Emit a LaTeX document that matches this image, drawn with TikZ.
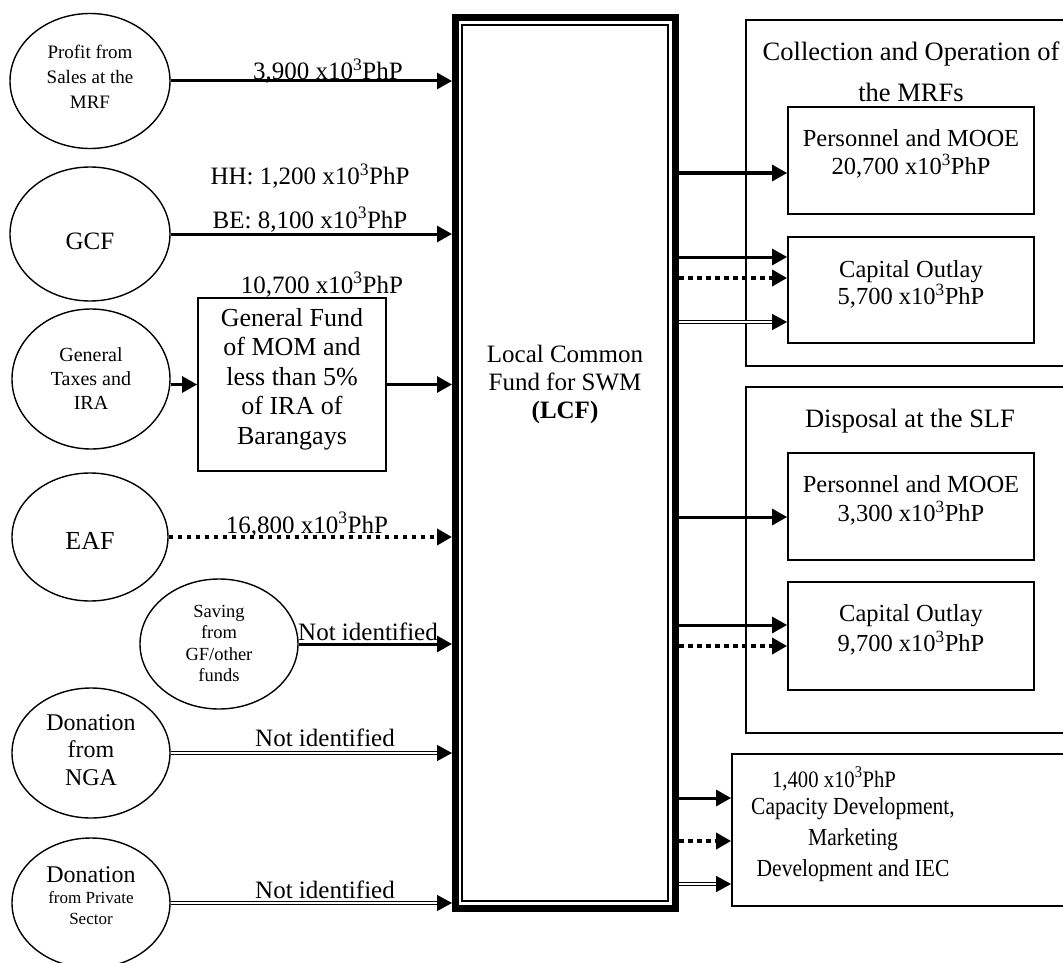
\documentclass[tikz,border=0pt]{standalone}
\usepackage{fontspec}
\setmainfont{Liberation Serif}
\newfontfamily\condserif[FakeStretch=0.88]{Liberation Serif}
\usetikzlibrary{shapes.geometric,arrows.meta,calc}
\newcommand{\fsz}[2]{\fontsize{#1}{#2}\selectfont}
\newcommand{\kphp}[1]{#1 x10\textsuperscript{3}PhP}

\begin{document}
\begin{tikzpicture}[x=1pt,y=-1pt,
  tip/.style={-{Triangle[length=15pt,width=16pt]}},
  flow/.style={tip, line width=3pt},
  dotflow/.style={tip, line width=4pt, dash pattern=on 4.5pt off 4.5pt},
  dblflow/.style={tip, double, double distance=2pt, line width=1.3pt},
  src/.style={ellipse, draw, line width=1.4pt, inner sep=0pt},
  box/.style={draw, line width=1.8pt, inner sep=0pt},
  group/.style={draw, line width=1.5pt, inner sep=0pt},
  txt/.style={inner sep=0pt, align=center},
  lbl/.style={inner sep=0pt, anchor=base, font=\fsz{25}{30}},
]
\path[use as bounding box] (0,0) rectangle (1063,963);
\clip (0,0) rectangle (1063,963);

% ---- central fund: heavy frame with a thin inner frame
\node[draw, line width=7pt, inner sep=0pt, minimum width=220pt, minimum height=891pt] (lcf) at (565.5,463) {};
\node[draw, line width=1.5pt, inner sep=0pt, minimum width=206pt, minimum height=876pt] (lcfin) at (565,463) {};
\node[txt, font=\fsz{25}{28}] (lcftxt) at (565,384) {Local Common\\Fund for SWM\\\textbf{(LCF)}};

% ---- sources
\node[src, minimum width=160pt, minimum height=135pt] (e1) at (90,81) {};
\node[txt, font=\fsz{19}{25}] (e1t) at (90,77) {Profit from\\Sales at the\\MRF};
\node[src, minimum width=160pt, minimum height=134pt] (e2) at (90,234) {};
\node[txt, font=\fsz{25}{30}] (e2t) at (90,241) {GCF};
\node[src, minimum width=158pt, minimum height=140pt] (e3) at (91,379) {};
\node[txt, font=\fsz{20}{24}] (e3t) at (91,378.5) {General\\Taxes and\\IRA};
\node[src, minimum width=156pt, minimum height=128pt] (e4) at (90,537) {};
\node[txt, font=\fsz{26}{30}] (e4t) at (90,541) {EAF};
\node[src, minimum width=158pt, minimum height=130pt] (e5) at (219,644) {};
\node[txt, font=\fsz{18.5}{21.5}] (e5t) at (219,643.5) {Saving\\from\\GF/other\\funds};
\node[src, minimum width=158pt, minimum height=130pt] (e6) at (91,753) {};
\node[txt, font=\fsz{24}{27.5}] (e6t) at (91,750) {Donation\\from\\NGA};
\node[src, minimum width=158pt, minimum height=130pt] (e7) at (91,903) {};
\node[txt, font=\fsz{17}{21}] (e7t) at (91,896) {{\fontsize{24}{21}\selectfont Donation}\\from Private\\Sector};

% ---- intermediate general fund
\node[box, minimum width=188pt, minimum height=173pt] (gf) at (292,384.5) {};
\node[txt, font=\fsz{26}{29.5}] (gft) at (292,379) {General Fund\\of MOM and\\less than 5\%\\of IRA of\\Barangays};

% ---- uses: collection and operation of the MRFs
\node[group, minimum width=330pt, minimum height=346pt] (g1) at (911,193) {};
\node[txt, font=\fsz{26.5}{41}] (g1t) at (911,72) {Collection and Operation of\\the MRFs};
\node[box, minimum width=246pt, minimum height=107pt] (p1) at (911,160.5) {};
\node[txt, font=\fsz{24.5}{28}] (p1t) at (911,154) {Personnel and MOOE\\\kphp{20,700}};
\node[box, minimum width=246pt, minimum height=106pt] (c1) at (911,290) {};
\node[txt, font=\fsz{24.5}{27}] (c1t) at (911,284) {Capital Outlay\\\kphp{5,700}};

% ---- uses: disposal at the SLF
\node[group, minimum width=330pt, minimum height=346pt] (g2) at (911,560) {};
\node[lbl, font=\fsz{26.5}{30}] (g2t) at (910,427) {Disposal at the SLF};
\node[box, minimum width=246pt, minimum height=107pt] (p2) at (911,506.5) {};
\node[txt, font=\fsz{24.5}{29}] (p2t) at (911,500) {Personnel and MOOE\\\kphp{3,300}};
\node[box, minimum width=246pt, minimum height=108pt] (c2) at (911,636) {};
\node[txt, font=\fsz{24.5}{30}] (c2t) at (911,630) {Capital Outlay\\\kphp{9,700}};

% ---- uses: capacity development
\node[box, minimum width=344pt, minimum height=152pt] (cap) at (904,830) {};
\node[lbl, font=\condserif\fsz{23.5}{30}] (capv) at (834,787) {\kphp{1,400}};
\node[txt, font=\condserif\fsz{24.5}{31}] (capt) at (853,840) {Capacity Development,\\Marketing\\Development and IEC};

% ---- inflows
\draw[flow] (e1.east) -- (e1.east -| lcf.west);
\draw[flow] (e2.east) -- (e2.east -| lcf.west);
\draw[flow] (gf.west -| e3.east) -- (gf.west);
\draw[flow] (gf.east) -- (gf.east -| lcf.west);
\draw[dotflow] (e4.east) -- (e4.east -| lcf.west);
\draw[flow] (e5.east) -- (e5.east -| lcf.west);
\draw[dblflow] (e6.east) -- (e6.east -| lcf.west);
\draw[dblflow] (e7.east) -- (e7.east -| lcf.west);

\node[lbl] (l1) at (328,80) {\kphp{3,900}};
\node[lbl] (l2a) at (310,185) {HH: \kphp{1,200}};
\node[lbl] (l2b) at (310,228) {BE: \kphp{8,100}};
\node[lbl] (l3) at (322,293) {\kphp{10,700}};
\node[lbl] (l4) at (307,533) {\kphp{16,800}};
\node[lbl] (l5) at (368,640) {Not identified};
\node[lbl] (l6) at (325,746) {Not identified};
\node[lbl] (l7) at (325,898) {Not identified};

% ---- outflows
\coordinate (tp1) at ($(p1.west)+(0,12.5)$);
\coordinate (tc1a) at ($(c1.west)+(0,-33)$);
\coordinate (tc1b) at ($(c1.west)+(0,-12)$);
\coordinate (tc1c) at ($(c1.west)+(0,32)$);
\coordinate (tp2) at ($(p2.west)+(0,10.5)$);
\coordinate (tc2a) at ($(c2.west)+(0,-11)$);
\coordinate (tc2b) at ($(c2.west)+(0,10)$);
\coordinate (tcpa) at ($(cap.west)+(0,-32)$);
\coordinate (tcpb) at ($(cap.west)+(0,11)$);
\coordinate (tcpc) at ($(cap.west)+(0,54)$);

\draw[flow] (lcf.east |- tp1) -- (tp1);
\draw[flow] (lcf.east |- tc1a) -- (tc1a);
\draw[dotflow] (lcf.east |- tc1b) -- (tc1b);
\draw[dblflow] (lcf.east |- tc1c) -- (tc1c);
\draw[flow] (lcf.east |- tp2) -- (tp2);
\draw[flow] (lcf.east |- tc2a) -- (tc2a);
\draw[dotflow] (lcf.east |- tc2b) -- (tc2b);
\draw[flow] (lcf.east |- tcpa) -- (tcpa);
\draw[dotflow] (lcf.east |- tcpb) -- (tcpb);
\draw[dblflow] (lcf.east |- tcpc) -- (tcpc);
\end{tikzpicture}
\end{document}
